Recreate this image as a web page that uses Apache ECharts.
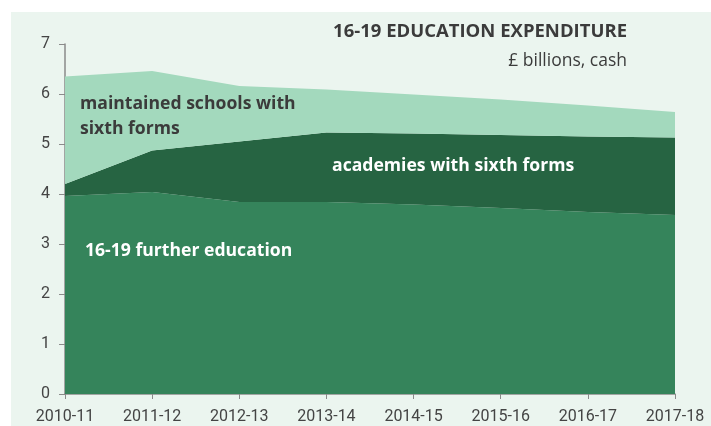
<!DOCTYPE html>
<html>
<head>
<meta charset="utf-8">
<script src="https://cdn.jsdelivr.net/npm/echarts@6/dist/echarts.min.js"></script>
<style>
  html, body { margin: 0; padding: 0; background: #ffffff; }
  #chart { width: 711px; height: 426px; }
</style>
</head>
<body>
<div id="chart"></div>
<script>
  // years on the x axis
  var years = ['2010-11', '2011-12', '2012-13', '2013-14', '2014-15', '2015-16', '2016-17', '2017-18'];
  // £ billions, stacked bottom to top
  var furtherEducation = [3.96, 4.04, 3.84, 3.84, 3.79, 3.72, 3.64, 3.58];
  var academies = [0.24, 0.83, 1.21, 1.39, 1.42, 1.46, 1.51, 1.55];
  var maintainedSchools = [2.15, 1.59, 1.11, 0.86, 0.78, 0.71, 0.62, 0.51];

  var chart = echarts.init(document.getElementById('chart'));
  var font = '"Open Sans", "Noto Sans", sans-serif';

  chart.setOption({
    backgroundColor: '#ffffff',
    animation: false,
    textStyle: { fontFamily: font },
    graphic: [
      {
        type: 'rect', z: -10, silent: true,
        shape: { x: 11, y: 12, width: 700, height: 414 },
        style: { fill: '#ebf5ef' }
      },
      {
        type: 'text', left: 80, top: 91, z: 100,
        style: {
          text: 'maintained schools with\nsixth forms', fill: '#3b3b3b',
          font: 'bold 17.6px ' + font, lineHeight: 25
        }
      },
      {
        type: 'text', left: 332, top: 157, z: 100,
        style: { text: 'academies with sixth forms', fill: '#ffffff', font: 'bold 17.6px ' + font }
      },
      {
        type: 'text', left: 85, top: 242, z: 100,
        style: { text: '16-19 further education', fill: '#ffffff', font: 'bold 17.6px ' + font }
      }
    ],
    title: [
      {
        text: '16-19 EDUCATION EXPENDITURE',
        right: 84, top: 22, padding: 0,
        textStyle: { fontFamily: font, fontSize: 18.5, fontWeight: 'bold', color: '#3b3b3b' }
      },
      {
        text: '£ billions, cash',
        right: 84, top: 52, padding: 0,
        textStyle: { fontFamily: font, fontSize: 17.5, fontWeight: 'normal', color: '#3b3b3b' }
      }
    ],
    grid: { left: 65, right: 36, top: 44, bottom: 32 },
    xAxis: {
      type: 'category',
      data: years,
      boundaryGap: false,
      axisLine: { lineStyle: { color: '#8a8a8a', width: 1.5 } },
      axisTick: { alignWithLabel: true, length: 5, lineStyle: { color: '#8a8a8a' } },
      axisLabel: { color: '#444', fontSize: 16, margin: 15, fontFamily: 'Roboto' }
    },
    yAxis: {
      type: 'value',
      min: 0, max: 7, interval: 1,
      splitLine: { show: false },
      axisLine: { show: true, lineStyle: { color: '#8a8a8a', width: 1.5 } },
      axisTick: { show: true, length: 6, lineStyle: { color: '#8a8a8a' } },
      axisLabel: { color: '#444', fontSize: 16, margin: 15, fontFamily: 'Roboto' }
    },
    series: [
      {
        name: '16-19 further education', type: 'line', stack: 'total',
        data: furtherEducation, symbol: 'none',
        lineStyle: { width: 0 }, areaStyle: { color: '#35845b', opacity: 1 }
      },
      {
        name: 'academies with sixth forms', type: 'line', stack: 'total',
        data: academies, symbol: 'none',
        lineStyle: { width: 0 }, areaStyle: { color: '#266442', opacity: 1 }
      },
      {
        name: 'maintained schools with sixth forms', type: 'line', stack: 'total',
        data: maintainedSchools, symbol: 'none',
        lineStyle: { width: 0 }, areaStyle: { color: '#a3d9bd', opacity: 1 }
      }
    ]
  });
</script>
</body>
</html>
